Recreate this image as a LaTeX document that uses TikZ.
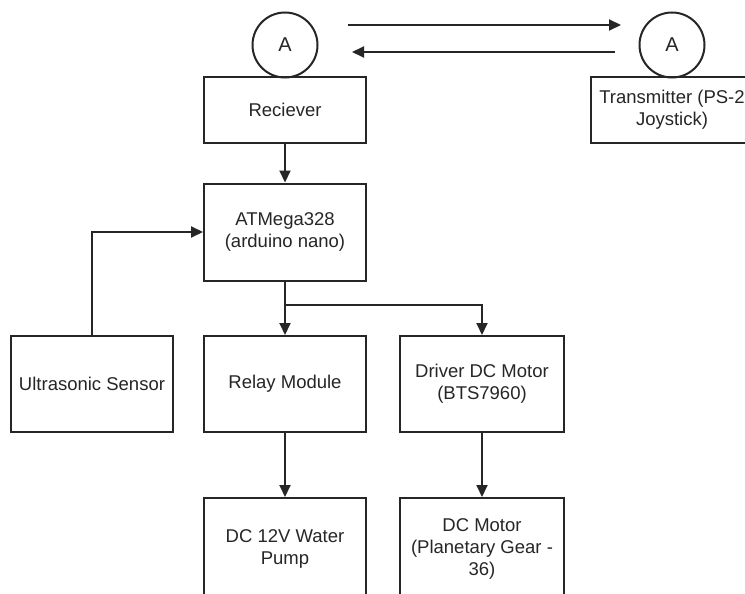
\documentclass[tikz,border=0pt]{standalone}
\usepackage{fontspec}
\setmainfont{Liberation Sans}
\usetikzlibrary{arrows.meta}
\definecolor{ink}{HTML}{262626}
\begin{document}
\begin{tikzpicture}[x=1pt,y=-1pt,
  blk/.style={draw=ink,line width=2pt,rectangle,align=center,text=ink,
    font=\fontsize{18.5}{22}\selectfont,inner sep=2pt,minimum width=162pt},
  circ/.style={draw=ink,line width=2pt,circle,minimum size=65pt,inner sep=0pt,
    text=ink,font=\fontsize{20}{22}\selectfont},
  arr/.style={draw=ink,line width=2pt,-{Triangle[length=12pt,width=11pt]}},
  ln/.style={draw=ink,line width=2pt}]
\useasboundingbox (0,0) rectangle (745,594);
\fill[white] (0,0) rectangle (745,594);
% nodes
\node[circ] (cA) at (285,45) {A};
\node[circ] (cB) at (672,45) {A};
\node[blk,minimum height=65pt] (recv) at (285,110) {Reciever};
\node[blk,minimum height=65pt] (trans) at (672,110) {Transmitter (PS-2\\Joystick)};
\node[blk,minimum height=97pt] (atm) at (285,232) {ATMega328\\(arduino nano)};
\node[blk,minimum height=96pt] (ultra) at (92,384) {Ultrasonic Sensor};
\node[blk,minimum height=96pt] (relay) at (285,384) {Relay Module};
\node[blk,minimum width=164pt,minimum height=96pt] (driver) at (482,384) {Driver DC Motor\\(BTS7960)};
\node[blk,minimum height=102pt] (pump) at (285,549) {DC 12V Water\\Pump};
\node[blk,minimum width=164pt,minimum height=102pt] (motor) at (482,549) {DC Motor\\(Planetary Gear -\\36)};
% wireless arrows
\coordinate (a1) at (348,25);
\coordinate (a2) at (621,25);
\coordinate (b1) at (615,52);
\coordinate (b2) at (352,52);
\draw[arr] (a1) -- (a2);
\draw[arr] (b1) -- (b2);
% connectors
\draw[arr] (recv.south) -- (atm.north);
\draw[arr] (ultra.north) |- (atm.west);
\coordinate (br) at (285,305);
\draw[ln] (atm.south) -- (br);
\draw[arr] (br) -- (relay.north);
\draw[arr] (br) -| (driver.north);
\draw[arr] (relay.south) -- (pump.north);
\draw[arr] (driver.south) -- (motor.north);
\end{tikzpicture}
\end{document}
